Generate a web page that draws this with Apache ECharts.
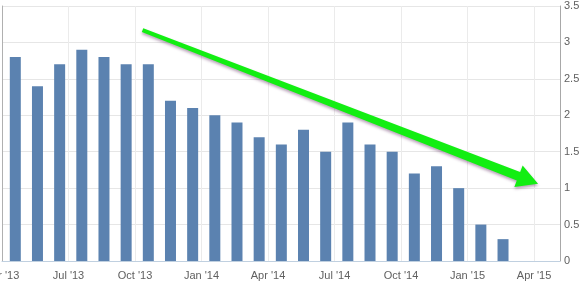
<!DOCTYPE html>
<html>
<head>
<meta charset="utf-8">
<script src="https://cdn.jsdelivr.net/npm/echarts@6/dist/echarts.min.js"></script>
<style>
html,body{margin:0;padding:0;background:#fff;}
#chart{width:584px;height:283px;}
</style>
</head>
<body>
<div id="chart"></div>
<script>
// ---- data ----
const months = ['2013-04','2013-05','2013-06','2013-07','2013-08','2013-09','2013-10','2013-11','2013-12',
  '2014-01','2014-02','2014-03','2014-04','2014-05','2014-06','2014-07','2014-08','2014-09','2014-10','2014-11','2014-12',
  '2015-01','2015-02'];
const values = [2.8,2.4,2.7,2.9,2.8,2.7,2.7,2.2,2.1,2.0,1.9,1.7,1.6,1.8,1.5,1.9,1.6,1.5,1.2,1.3,1.0,0.5,0.3];
const monthNames = ['Jan','Feb','Mar','Apr','May','Jun','Jul','Aug','Sep','Oct','Nov','Dec'];
const yTicks = [0,0.5,1,1.5,2,2.5,3,3.5];
// arrow annotation in data space: [monthIndex, value]
const arrowStart = [9.34, 3.17];
const arrowTip = [27.18, 1.06];

const baseYear = 2013;
function monthIndex(s){ const p = s.split('-'); return (parseInt(p[0])-baseYear)*12 + parseInt(p[1]) - 1; }
const barData = months.map((m,i)=>[monthIndex(m)+0.6, values[i]]);

const chart = echarts.init(document.getElementById('chart'));
const font = 'Liberation Sans, Arial, sans-serif';
chart.setOption({
  animation:false,
  grid:{left:2,right:24,top:6,bottom:22,containLabel:false,outerBoundsMode:'none'},
  xAxis:{
    type:'value', min:3, max:28.17, interval:3,
    axisLine:{show:true,lineStyle:{color:'#C0D0E0',width:1}},
    axisTick:{show:false},
    splitLine:{show:true,lineStyle:{color:'#ebebeb',width:1}},
    axisLabel:{
      color:'#606060', fontSize:11, fontFamily:font, margin:9,
      showMinLabel:true, showMaxLabel:true, hideOverlap:false,
      formatter:function(v){
        if (Math.abs(v-Math.round(v))>1e-6) return '';
        const r = Math.round(v);
        const y = baseYear + Math.floor(r/12);
        return monthNames[r%12] + " '" + String(y).slice(2);
      }
    }
  },
  yAxis:[{
    type:'value', position:'right', min:yTicks[0], max:yTicks[yTicks.length-1], interval:0.5,
    axisLine:{show:true,lineStyle:{color:'#a8a8a8',width:1}},
    axisTick:{show:false},
    splitLine:{show:true,lineStyle:{color:'#e6e6e6',width:1}},
    axisLabel:{color:'#606060',fontSize:11,fontFamily:font,margin:4}
  },{
    type:'value', position:'left', min:0, max:3.5,
    axisLine:{show:true,lineStyle:{color:'#b0b0b0',width:1}},
    axisTick:{show:false}, axisLabel:{show:false}, splitLine:{show:false}
  }],
  series:[{
    type:'bar', data:barData, barWidth:11, yAxisIndex:0,
    itemStyle:{color:'#5b82b0'}
  }]
});

// arrow overlay
const S = chart.convertToPixel({gridIndex:0}, arrowStart);
const T = chart.convertToPixel({gridIndex:0}, arrowTip);
const dx = T[0]-S[0], dy = T[1]-S[1];
const L = Math.sqrt(dx*dx+dy*dy);
const u = [dx/L, dy/L], n = [-u[1], u[0]];
const headLen = 21, headHalf = 11.5, shaftEnd = 4.6, shaftStart = 2.0;
const B = [T[0]-headLen*u[0], T[1]-headLen*u[1]];
function pt(P,k){ return [P[0]+k*n[0], P[1]+k*n[1]]; }
const pts = [pt(S,shaftStart), pt(B,shaftEnd), pt(B,headHalf), T, pt(B,-headHalf), pt(B,-shaftEnd), pt(S,-shaftStart)];
chart.setOption({
  graphic:[{
    type:'polygon', shape:{points:pts}, z:100,
    style:{fill:'#12ee12', shadowBlur:3, shadowColor:'rgba(80,20,80,0.4)', shadowOffsetX:0, shadowOffsetY:2}
  }]
});
</script>
</body>
</html>
